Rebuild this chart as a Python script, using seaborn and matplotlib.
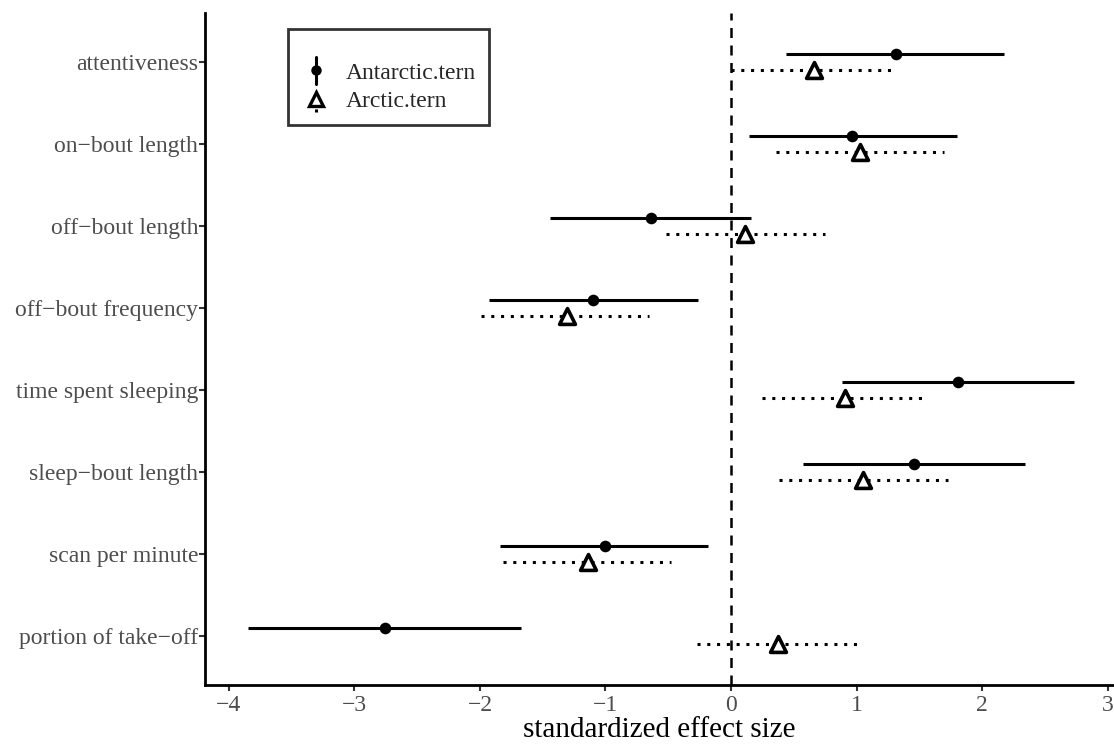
import numpy as np
import pandas as pd
import matplotlib
matplotlib.use("Agg")
import matplotlib.pyplot as plt
from matplotlib.lines import Line2D
from matplotlib.legend_handler import HandlerBase
import seaborn as sns

# Behaviour variables (top to bottom)
traits = ["attentiveness", "on\u2212bout length", "off\u2212bout length",
          "off\u2212bout frequency", "time spent sleeping", "sleep\u2212bout length",
          "scan per minute", "portion of take\u2212off"]

# Antarctic tern: estimate and interval bounds
ant_est = [1.31, 0.96, -0.64, -1.10, 1.81, 1.46, -1.00, -2.76]
ant_lo = [0.44, 0.14, -1.44, -1.93, 0.88, 0.57, -1.84, -3.85]
ant_hi = [2.17, 1.80, 0.16, -0.26, 2.73, 2.34, -0.18, -1.67]

# Arctic tern: estimate and interval bounds
arc_est = [0.66, 1.03, 0.11, -1.31, 0.91, 1.05, -1.14, 0.37]
arc_lo = [0.00, 0.36, -0.52, -1.99, 0.25, 0.38, -1.82, -0.27]
arc_hi = [1.29, 1.70, 0.75, -0.65, 1.57, 1.73, -0.48, 1.00]

species = ["Antarctic.tern", "Arctic.tern"]
xticks = [-4, -3, -2, -1, 0, 1, 2, 3]

sns.set_theme(style="white")
plt.rcParams["font.family"] = ["Liberation Serif", "DejaVu Serif"]

n = len(traits)
rows = np.arange(n)
dodge = 0.1

df = pd.concat([
    pd.DataFrame({"trait": traits, "species": species[0], "est": ant_est,
                  "lo": ant_lo, "hi": ant_hi, "y": rows - dodge}),
    pd.DataFrame({"trait": traits, "species": species[1], "est": arc_est,
                  "lo": arc_lo, "hi": arc_hi, "y": rows + dodge}),
], ignore_index=True)

fig = plt.figure(figsize=(11.14, 7.45), dpi=100)
ax = fig.add_axes([0.184, 0.0805, 0.816, 0.902])

ax.axvline(0, color="black", lw=1.8, ls=(0, (4, 3)), zorder=1)

styles = {
    species[0]: dict(ls="-", lw=2.2),
    species[1]: dict(ls=(0, (1, 2.2)), lw=2.2),
}
for sp, sub in df.groupby("species"):
    ax.hlines(sub["y"], sub["lo"], sub["hi"], color="black", zorder=2, **styles[sp])

sns.scatterplot(data=df[df.species == species[0]], x="est", y="y", ax=ax,
                marker="o", s=70, color="black", edgecolor="black",
                linewidth=0, zorder=3, legend=False)
sns.scatterplot(data=df[df.species == species[1]], x="est", y="y", ax=ax,
                marker="^", s=130, facecolor="white", edgecolor="black",
                linewidth=2.6, zorder=3, legend=False)

ax.set_xlim(-4.19, 3.05)
ax.set_ylim(n - 1 + 0.6, -0.6)
ax.set_yticks(rows)
ax.set_yticklabels(traits)
ax.set_xticks(xticks)
ax.set_xticklabels([str(t).replace("-", "\u2212") for t in xticks])
ax.set_xlabel("standardized effect size", fontsize=21, color="black", labelpad=1)
ax.set_ylabel("")

for side in ["top", "right"]:
    ax.spines[side].set_visible(False)
for side in ["left", "bottom"]:
    ax.spines[side].set_color("black")
    ax.spines[side].set_linewidth(2.0)
ax.tick_params(axis="both", which="major", length=4, width=1.5, color="#333333",
               labelsize=17, labelcolor="#4d4d4d", direction="out",
               left=True, bottom=True)
ax.tick_params(axis="x", pad=3)
ax.tick_params(axis="y", pad=1)


class PointRangeHandler(HandlerBase):
    """Legend key showing a point with a vertical range line."""

    def __init__(self, marker, ms, mfc, mew, ls):
        super().__init__()
        self.marker, self.ms, self.mfc, self.mew, self.ls = marker, ms, mfc, mew, ls

    def create_artists(self, legend, orig_handle, xdescent, ydescent,
                       width, height, fontsize, trans):
        cx = width / 2 - xdescent
        cy = height / 2 - ydescent
        vline = Line2D([cx, cx], [cy - height * 0.8, cy + height * 0.8],
                       color="black", lw=2.2, ls=self.ls, transform=trans)
        pt = Line2D([cx], [cy], marker=self.marker, ms=self.ms, mfc=self.mfc,
                    mec="black", mew=self.mew, ls="none", transform=trans)
        return [vline, pt]


h_ant = Line2D([], [], color="black")
h_arc = Line2D([], [], color="black")
leg = ax.legend(
    [h_ant, h_arc], species,
    handler_map={
        h_ant: PointRangeHandler("o", 7.5, "black", 0, "-"),
        h_arc: PointRangeHandler("^", 9.5, "white", 2.4, (0, (1, 3.5))),
    },
    title=" ", title_fontsize=10,
    loc="upper left", bbox_to_anchor=(0.091, 0.976), fontsize=17,
    frameon=True, fancybox=False, edgecolor="black", handlelength=1.3,
    handletextpad=0.6, borderpad=0.55, labelspacing=0.3, borderaxespad=0,
)
leg.get_frame().set_linewidth(2.0)
leg._legend_box.align = "left"

fig.savefig("out.png", dpi=100)
